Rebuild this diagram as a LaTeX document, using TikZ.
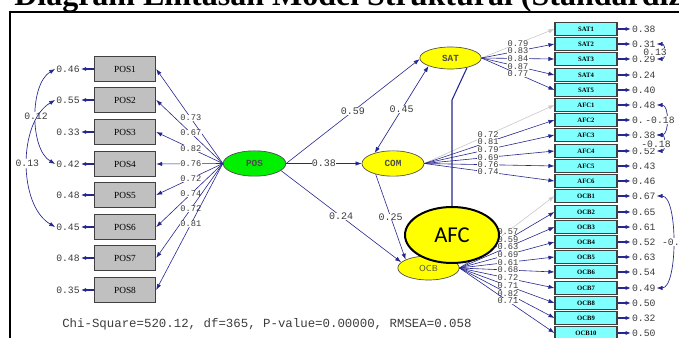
\documentclass[tikz,border=0pt]{standalone}
\usepackage{fontspec}
\setmainfont{Liberation Serif}
\setmonofont{Liberation Mono}
\newfontfamily\afcfont{Carlito}
\usepackage{tikz}
\usetikzlibrary{arrows.meta,shapes.geometric}
\definecolor{SemNavy}{HTML}{26268F}
\definecolor{SemGray}{HTML}{C0C0C0}
\definecolor{SemPale}{HTML}{C8C8C8}
\definecolor{SemCyan}{HTML}{80FFFF}
\definecolor{SemGreen}{HTML}{00F000}
\definecolor{SemYellow}{HTML}{FFFF00}
\definecolor{SemInk}{HTML}{3C3C3C}

\begin{document}
\begin{tikzpicture}[x=0.75pt,y=-0.75pt]
    \tikzset{
      obsbox/.style={rectangle, draw=black!75, fill=SemGray, line width=.8pt,
        minimum width=46pt, minimum height=19pt, inner sep=0pt, font=\fontsize{7}{8}\selectfont},
      indbox/.style={rectangle, draw=black!75, fill=SemCyan, line width=.8pt,
        minimum width=46.5pt, minimum height=10pt, inner sep=0pt, font=\bfseries\fontsize{5}{6}\selectfont},
      latent/.style={ellipse, draw=black!70, line width=.5pt, inner sep=0pt, fill=SemYellow,
        text=black!70, font=\ttfamily\bfseries\fontsize{7}{8}\selectfont},
      errnum/.style={inner sep=.6pt, text=SemInk, font=\ttfamily\fontsize{7.3}{8}\selectfont},
      ldnum/.style={fill=white, inner sep=.3pt, text height=4.1pt, text depth=0pt, text=SemInk,
        font=\ttfamily\fontsize{6.5}{7}\selectfont},
      pathnum/.style={ldnum, text height=4.6pt, font=\ttfamily\fontsize{7.5}{8}\selectfont},
      load/.style={-{Latex[length=4.5pt,width=3.2pt]}, draw=SemNavy, line width=.45pt},
      fixload/.style={load, draw=SemPale},
      twoway/.style={{Latex[length=4.5pt,width=3.2pt]}-{Latex[length=4.5pt,width=3.2pt]},
        draw=SemNavy, line width=.5pt},
      errarr/.style={-{Latex[length=4pt,width=3pt]}, draw=SemNavy, line width=.9pt}
    }
    \useasboundingbox (0,0) rectangle (679,338);
    \begin{scope}
      \clip (0,0) rectangle (679,338);
      \node[anchor=base west, inner sep=0pt, font=\bfseries\fontsize{24}{28}\selectfont]
        (title) at (14,5.5) {Diagram Lintasan Model Struktural (Standardized Solution)};
    \end{scope}
    \draw[line width=.9pt] (10,338) |- (679,12);
    % exogenous block
    \foreach \i/\y/\e in {1/69/0.46,2/100/0.55,3/132/0.33,4/164/0.42,5/195/0.48,6/227/0.45,7/258/0.48,8/290/0.35} {
      \node[obsbox] (p\i) at (125,\y) {POS\i};
      \node[errnum] (ep\i) at (68,\y) {\e};
      \draw[errarr] (p\i.west) -- (ep\i.east);
    }
    \node[latent, fill=SemGreen, minimum width=47pt, minimum height=19pt] (pos) at (254.5,163.5) {POS};
    \foreach \i/\v in {1/0.73,2/0.67,3/0.82,4/0.76,5/0.72,6/0.74,7/0.72,8/0.81}
      \draw[load] (pos.west) -- node[ldnum,pos=.48] {\v} (p\i.east);
    \draw[twoway] (ep1.west) to[out=210,in=150,looseness=.8] node[errnum,fill=white,pos=.5] {0.12} (ep4.west);
    \draw[twoway] (ep2.west) to[out=210,in=150,looseness=.87] node[errnum,fill=white,pos=.5] {0.13} (ep6.west);
    % endogenous block
    \node[latent, minimum width=46pt, minimum height=16.5pt] (sat) at (450.5,58) {SAT};
    \node[latent, minimum width=46.5pt, minimum height=19pt] (com) at (393,163.5) {COM};
    \node[latent, minimum width=46pt, minimum height=18pt, font=\sffamily\fontsize{6.5}{7}\selectfont] (ocb) at (428.5,268) {OCB};
    \draw[load] (pos.east) -- node[pathnum] {0.59} (sat.182);
    \draw[load] (pos.east) -- node[pathnum] {0.38} (com.west);
    \draw[load] (pos.345) -- node[pathnum] {0.24} (ocb.168);
    \draw[twoway] (com.150) -- node[pathnum] {0.45} (sat.200);
    \draw[load] (com.212) -- node[pathnum] {0.25} (ocb.160);
    \foreach \i/\y/\e in {1/29/0.38,2/44/0.31,3/59/0.29,4/75/0.24,5/90/0.40} {
      \node[indbox] (s\i) at (586,\y) {SAT\i};
      \node[errnum, anchor=west] (es\i) at (631,\y) {\e};
      \draw[errarr] (s\i.east) -- (es\i.west);
    }
    \foreach \i/\y/\e in {1/105/0.48,2/120/0.,3/135/0.38,4/151/0.52,5/166/0.43,6/181/0.46} {
      \node[indbox] (a\i) at (586,\y) {AFC\i};
      \node[errnum, anchor=west] (ea\i) at (631,\y) {\e};
      \draw[errarr] (a\i.east) -- (ea\i.west);
    }
    \foreach \i/\y/\e in {1/196/0.67,2/212/0.65,3/227/0.61,4/242/0.52,5/257/0.63,6/272/0.54,7/288/0.49,8/303/0.50,9/318/0.32,10/333/0.50} {
      \node[indbox] (o\i) at (586,\y) {OCB\i};
      \node[errnum, anchor=west] (eo\i) at (631,\y) {\e};
      \draw[errarr] (o\i.east) -- (eo\i.west);
    }
    \draw[fixload] (sat.east) -- node[ldnum,pos=.5] {0.79} (s1.west);
    \foreach \i/\v in {2/0.83,3/0.84,4/0.87,5/0.77}
      \draw[load] (sat.east) -- node[ldnum,pos=.5] {\v} (s\i.west);
    \draw[fixload] (com.east) -- node[ldnum,pos=.49] {0.72} (a1.west);
    \foreach \i/\v in {2/0.81,3/0.79,4/0.69,5/0.76,6/0.74}
      \draw[load] (com.east) -- node[ldnum,pos=.49] {\v} (a\i.west);
    \draw[fixload] (ocb.east) -- node[ldnum,pos=.51] {0.57} (o1.west);
    \foreach \i/\v in {2/0.59,3/0.63,4/0.69,5/0.61,6/0.68,7/0.72,8/0.71,9/0.82,10/0.71}
      \draw[load] (ocb.east) -- node[ldnum,pos=.51] {\v} (o\i.west);
    \draw[twoway] (es2.east) to[out=0,in=0,looseness=1.6] (es3.east);
    \node[errnum, fill=white] (cs1) at (655,52) {0.13};
    \draw[twoway] (ea1.east) to[out=0,in=0,looseness=1.1] (ea3.east);
    \node[errnum, fill=white] (ca1) at (660,120) {-0.18};
    \draw[twoway] (ea3.east) to[out=0,in=0,looseness=1.5] (ea4.east);
    \node[errnum, fill=white] (ca2) at (656,144) {-0.18};
    \draw[twoway] (eo1.east) to[out=0,in=0,looseness=.6] (eo7.east);
    \node[errnum, fill=white, anchor=west] (co1) at (661,242) {-0.};
    % overlay
    \node[ellipse, draw=black, line width=1.5pt, fill=SemYellow, minimum width=70.5pt,
      minimum height=42pt, inner sep=0pt, font=\afcfont\fontsize{17}{20}\selectfont] (afc) at (452,235) {AFC};
    \coordinate (knee) at (452,100);
    \draw[draw=SemNavy, line width=.8pt] (sat.330) -- (knee) -- (afc.north);
    \node[anchor=base west, inner sep=0pt, text=SemInk, font=\ttfamily\fontsize{9.3}{10}\selectfont]
      (fitline) at (62,328) {Chi-Square=520.12, df=365, P-value=0.00000, RMSEA=0.058};
  \end{tikzpicture}
\end{document}
